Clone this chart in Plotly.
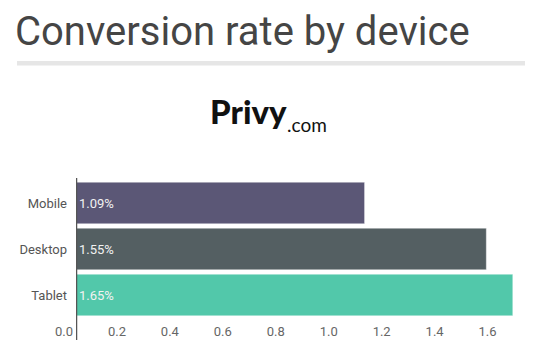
import plotly.graph_objects as go

devices = ["Mobile", "Desktop", "Tablet"]
rates = [1.09, 1.55, 1.65]
rate_labels = ["1.09%", "1.55%", "1.65%"]
colors = ["#5b5776", "#545f62", "#52c8aa"]
x_ticks = [0.0, 0.2, 0.4, 0.6, 0.8, 1.0, 1.2, 1.4, 1.6]

# the page body has an 8px margin, so the figure is drawn 8px right/down
OFF = 8
PAGE_W, PAGE_H = 551, 364
W, H = PAGE_W - OFF, PAGE_H - OFF
# plot area in page pixels: x 76..526, y 180..318
L, R, T, B = 76 - OFF, PAGE_W - 526, 180 - OFF, PAGE_H - 318
PW, PH = W - L - R, H - T - B

def px(x):
    return (x - OFF - L) / PW

def py(y):
    return (H - B - (y - OFF)) / PH

fig = go.Figure(go.Bar(
    y=devices, x=rates, orientation="h",
    marker=dict(color=colors, line=dict(color="rgba(255,255,255,0.35)", width=1)),
    text=rate_labels, textposition="inside", insidetextanchor="start",
    textfont=dict(family="Roboto", size=13, color="#f2f2f2"),
    hoverinfo="skip",
))

fig.update_layout(
    width=W, height=H,
    margin=dict(l=L, r=R, t=T, b=B),
    plot_bgcolor="white", paper_bgcolor="white",
    bargap=0.1,
    showlegend=False,
    title=dict(text="Conversion rate by device", x=(15 - OFF) / W, xanchor="left", xref="container",
               y=1 - 9 / H, yanchor="top", yref="container", automargin=False,
               font=dict(family="Roboto", size=40, color="#454545")),
    font=dict(family="Roboto", size=13, color="#555"),
)
fig.update_xaxes(range=[0, 1.7], tickvals=x_ticks, ticktext=[f"{v:.1f}" for v in x_ticks],
                 showgrid=False, zeroline=False, showline=False, ticks="", automargin=False,
                 ticklabelshift=-12, ticklabelstandoff=4,
                 tickfont=dict(family="Roboto", size=13, color="#666"))
fig.update_yaxes(autorange="reversed", showgrid=False, zeroline=False, showline=False, ticks="",
                 ticklabelstandoff=8, automargin=False,
                 tickfont=dict(family="Roboto", size=13, color="#555"))

# divider under title
fig.add_shape(type="rect", xref="paper", yref="paper",
              x0=px(17), x1=px(525), y0=py(65.5), y1=py(61),
              fillcolor="#e6e6e6", line=dict(width=0), layer="below")
# vertical axis line
fig.add_shape(type="line", xref="x", yref="paper", x0=0, x1=0, y0=py(340), y1=py(178),
              line=dict(color="#555", width=2.5), layer="above")

# logo text
fig.add_annotation(text="Privy", xref="paper", yref="paper", x=px(288), y=py(132),
                   xanchor="right", yanchor="bottom", showarrow=False, borderpad=0,
                   font=dict(family="Lato", size=33, color="#111", weight=900))
fig.add_annotation(text=".com", xref="paper", yref="paper", x=px(286), y=py(137),
                   xanchor="left", yanchor="bottom", showarrow=False, borderpad=0,
                   font=dict(family="Lato", size=19, color="#111"))

fig.write_html("out.html")
